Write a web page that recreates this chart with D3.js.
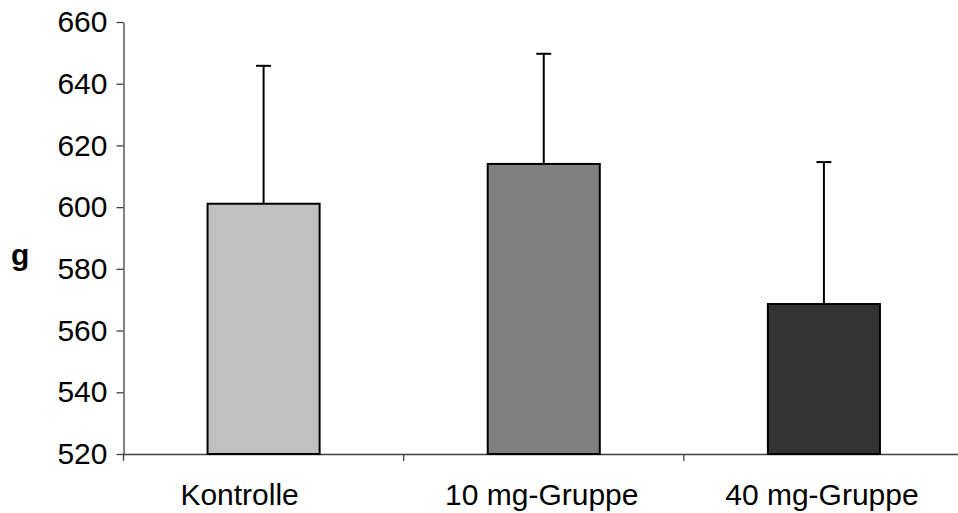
<!DOCTYPE html>
<html>
<head>
<meta charset="utf-8">
<script src="https://cdn.jsdelivr.net/npm/d3@7"></script>
<style>
  body { margin: 0; background: #fff; }
  svg { display: block; }
  text { font-family: "Liberation Sans", Arial, sans-serif; fill: #000; }
</style>
</head>
<body>
<svg id="chart" width="958" height="513"></svg>
<script>
// data
var categories = ['Kontrolle', '10 mg-Gruppe', '40 mg-Gruppe'];
var means = [601.1, 614.0, 568.6];
var errors = [44.7, 35.7, 46.0];
var barColors = ['#c0c0c0', '#808080', '#333333'];
var yTicks = [520, 540, 560, 580, 600, 620, 640, 660];
var yLabel = 'g';

var svg = d3.select('#chart');

var x = d3.scaleBand()
  .domain(categories)
  .range([123.5, 964])
  .paddingInner(0)
  .paddingOuter(0);

var y = d3.scaleLinear()
  .domain([520, 660])
  .range([454, 22]);

var axisColor = '#404040';

// y axis
var yAxis = svg.append('g')
  .attr('transform', 'translate(' + x.range()[0] + ',0)')
  .call(d3.axisLeft(y).tickValues(yTicks).tickSize(7).tickSizeOuter(0).tickPadding(9));
yAxis.select('.domain').attr('stroke', axisColor).attr('stroke-width', 1.3);
yAxis.selectAll('.tick line').attr('stroke', axisColor).attr('stroke-width', 1.3);
yAxis.selectAll('.tick text')
  .attr('font-size', 30)
  .attr('font-family', '"Liberation Sans", Arial, sans-serif')
  .attr('fill', '#000');

// x axis: labels centred on bands, ticks on band edges
var xAxis = svg.append('g')
  .attr('transform', 'translate(0,' + y(520) + ')')
  .call(d3.axisBottom(x).tickSize(0).tickSizeOuter(0).tickPadding(51));
xAxis.select('.domain').attr('stroke', axisColor).attr('stroke-width', 1.3);
xAxis.selectAll('.tick text')
  .attr('font-size', 30)
  .attr('font-family', '"Liberation Sans", Arial, sans-serif')
  .attr('fill', '#000')
  .attr('dy', 0)
  .attr('dx', function(d, i) { return i === 0 ? -24 : -2; });

xAxis.selectAll('.edge')
  .data(categories)
  .enter().append('line')
  .attr('class', 'edge')
  .attr('x1', function(d) { return x(d); })
  .attr('x2', function(d) { return x(d); })
  .attr('y1', 0)
  .attr('y2', 7)
  .attr('stroke', axisColor)
  .attr('stroke-width', 1.3);

// error bars (upper only)
var err = svg.append('g');
err.selectAll('line.stem')
  .data(categories)
  .enter().append('line')
  .attr('class', 'stem')
  .attr('x1', function(d) { return x(d) + x.bandwidth() / 2; })
  .attr('x2', function(d) { return x(d) + x.bandwidth() / 2; })
  .attr('y1', function(d, i) { return y(means[i]); })
  .attr('y2', function(d, i) { return y(means[i] + errors[i]); })
  .attr('stroke', '#000')
  .attr('stroke-width', 2);
err.selectAll('line.cap')
  .data(categories)
  .enter().append('line')
  .attr('class', 'cap')
  .attr('x1', function(d) { return x(d) + x.bandwidth() / 2 - 7.5; })
  .attr('x2', function(d) { return x(d) + x.bandwidth() / 2 + 7.5; })
  .attr('y1', function(d, i) { return y(means[i] + errors[i]); })
  .attr('y2', function(d, i) { return y(means[i] + errors[i]); })
  .attr('stroke', '#000')
  .attr('stroke-width', 2);

// bars
var barW = x.bandwidth() * 0.4;
svg.append('g').selectAll('rect')
  .data(categories)
  .enter().append('rect')
  .attr('x', function(d) { return x(d) + (x.bandwidth() - barW) / 2; })
  .attr('y', function(d, i) { return y(means[i]); })
  .attr('width', barW)
  .attr('height', function(d, i) { return y(520) - y(means[i]); })
  .attr('fill', function(d, i) { return barColors[i]; })
  .attr('stroke', '#000')
  .attr('stroke-width', 2);

// axis title
svg.append('text')
  .attr('x', 11)
  .attr('y', 265)
  .attr('font-size', 30)
  .attr('font-weight', 'bold')
  .text(yLabel);
</script>
</body>
</html>
